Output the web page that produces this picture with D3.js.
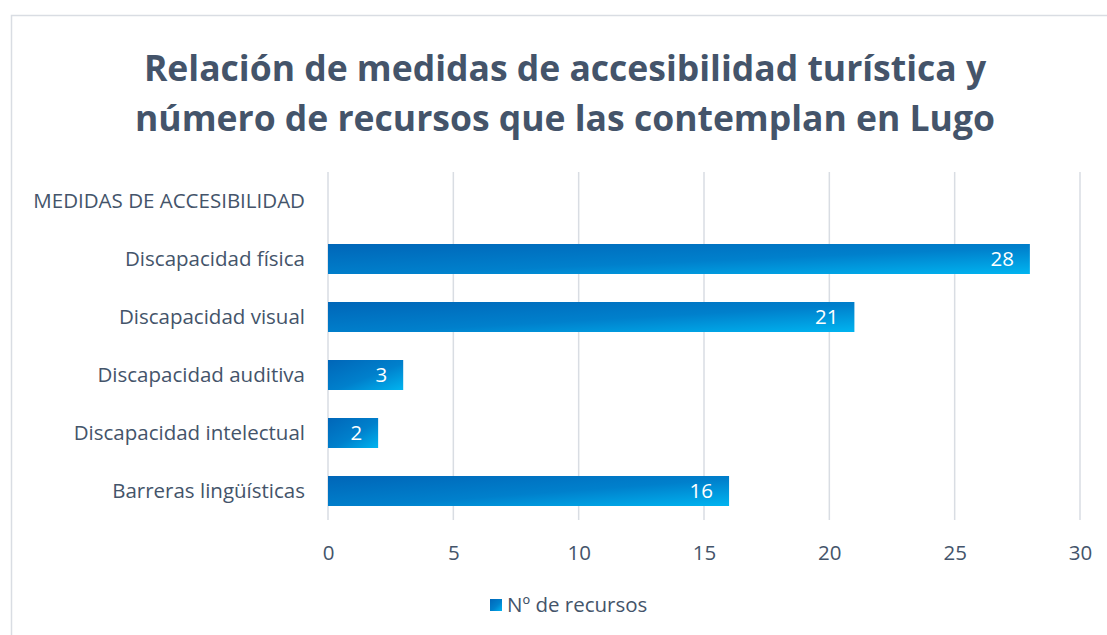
<!DOCTYPE html>
<html>
<head>
<meta charset="utf-8">
<script src="https://cdn.jsdelivr.net/npm/d3@7"></script>
<style>
  body { margin: 0; background: #fff; }
  svg { display: block; font-family: 'Open Sans', sans-serif; }
</style>
</head>
<body>
<div class="canvas"></div>
<script>
// data
const titleLines = [
  'Relación de medidas de accesibilidad turística y',
  'número de recursos que las contemplan en Lugo'
];
const axisTitle = 'MEDIDAS DE ACCESIBILIDAD';
const categories = [
  'Discapacidad física',
  'Discapacidad visual',
  'Discapacidad auditiva',
  'Discapacidad intelectual',
  'Barreras lingüísticas'
];
const values = [28, 21, 3, 2, 16];
const ticks = [0, 5, 10, 15, 20, 25, 30];
const seriesName = 'Nº de recursos';

const textColor = '#44546A';
const labelFS = '20.5px';

const dims = { width: 1107, height: 635 };
const plot = { left: 328, right: 1080, top: 172, bottom: 520 };

const svg = d3.select('.canvas')
  .append('svg')
  .attr('width', dims.width)
  .attr('height', dims.height);

// gradient for bars
const defs = svg.append('defs');
const grad = defs.append('linearGradient')
  .attr('id', 'barGrad')
  .attr('x1', 0).attr('y1', 0)
  .attr('x2', 1).attr('y2', 1);
grad.append('stop').attr('offset', '0%').attr('stop-color', '#0066B8');
grad.append('stop').attr('offset', '55%').attr('stop-color', '#0080CC');
grad.append('stop').attr('offset', '100%').attr('stop-color', '#00B4F0');

// chart border
svg.append('rect')
  .attr('x', 11.5).attr('y', 15.5)
  .attr('width', dims.width).attr('height', dims.height)
  .attr('fill', 'none')
  .attr('stroke', '#D9DDE3')
  .attr('stroke-width', 1.5);

// title
svg.append('g')
  .selectAll('text')
  .data(titleLines)
  .enter()
  .append('text')
  .attr('x', 565)
  .attr('y', (d, i) => 81 + i * 50)
  .attr('text-anchor', 'middle')
  .attr('font-weight', 'bold')
  .attr('font-size', '35.5px')
  .attr('fill', textColor)
  .text((d) => d);

// scales
const x = d3.scaleLinear()
  .domain([0, 30])
  .range([plot.left, plot.right]);

const y = d3.scaleBand()
  .domain([axisTitle, ...categories])
  .range([plot.top, plot.bottom])
  .paddingInner(0.48)
  .paddingOuter(0.24);

// gridlines
svg.append('g')
  .selectAll('line')
  .data(ticks)
  .enter()
  .append('line')
  .attr('x1', (d) => x(d))
  .attr('x2', (d) => x(d))
  .attr('y1', plot.top)
  .attr('y2', plot.bottom)
  .attr('stroke', '#D9DDE3')
  .attr('stroke-width', 1.5);

// x axis labels
const xAxis = d3.axisBottom(x).tickValues(ticks).tickSize(0).tickPadding(0);
const xg = svg.append('g')
  .attr('transform', `translate(0, ${plot.bottom + 40})`)
  .call(xAxis);
xg.select('.domain').remove();
xg.selectAll('text')
  .attr('dy', 0)
  .attr('font-size', labelFS)
  .attr('font-family', "'Open Sans', sans-serif")
  .attr('fill', textColor);

// y axis labels
const yAxis = d3.axisLeft(y).tickSize(0).tickPadding(0);
const yg = svg.append('g')
  .attr('transform', `translate(${plot.left - 23}, 0)`)
  .call(yAxis);
yg.select('.domain').remove();
yg.selectAll('text')
  .attr('font-size', labelFS)
  .attr('font-family', "'Open Sans', sans-serif")
  .attr('fill', textColor);

// bars
const barData = categories.map((c, i) => ({ key: c, value: values[i] }));
const barH = 30;
svg.append('g')
  .selectAll('rect')
  .data(barData)
  .enter()
  .append('rect')
  .attr('x', x(0))
  .attr('y', (d) => y(d.key) + y.bandwidth() / 2 - barH / 2)
  .attr('width', (d) => x(d.value) - x(0))
  .attr('height', barH)
  .attr('fill', 'url(#barGrad)');

// data labels
svg.append('g')
  .selectAll('text')
  .data(barData)
  .enter()
  .append('text')
  .attr('x', (d) => x(d.value) - 16)
  .attr('y', (d) => y(d.key) + y.bandwidth() / 2)
  .attr('dy', '0.36em')
  .attr('text-anchor', 'end')
  .attr('font-size', labelFS)
  .attr('fill', '#fff')
  .text((d) => d.value);

// legend
const legend = svg.append('g').attr('transform', 'translate(490, 605)');
legend.append('rect')
  .attr('x', 0).attr('y', -6)
  .attr('width', 12).attr('height', 12)
  .attr('fill', 'url(#barGrad)');
legend.append('text')
  .attr('x', 17)
  .attr('dy', '0.35em')
  .attr('font-size', labelFS)
  .attr('fill', textColor)
  .text(seriesName);
</script>
</body>
</html>
